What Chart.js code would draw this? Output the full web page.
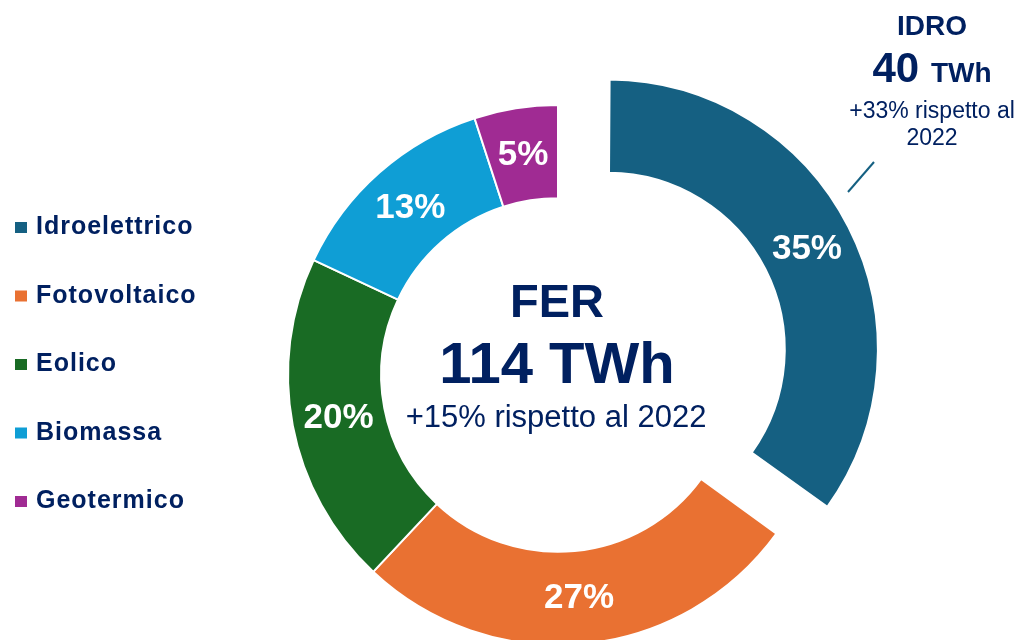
<!DOCTYPE html>
<html>
<head>
<meta charset="utf-8">
<script src="https://cdn.jsdelivr.net/npm/chart.js@4.4.1/dist/chart.umd.min.js"></script>
<style>
  html, body { margin: 0; padding: 0; background: #fff; }
  #wrap { position: relative; width: 1020px; height: 640px; }
</style>
</head>
<body>
<div id="wrap"><canvas id="ferChart"></canvas></div>
<script>
// dati
const fonti = ["Idroelettrico", "Fotovoltaico", "Eolico", "Biomassa", "Geotermico"];
const quote = [35, 27, 20, 13, 5];
const colori = ["#156082", "#E97132", "#196B24", "#0F9ED5", "#A02B93"];
const distacco = [224, 0, 0, 0, 0]; // solo l'idro e' staccato

const titoloCentro = "FER";
const totaleCentro = "114 TWh";
const notaCentro = "+15% rispetto al 2022";
const idroTitolo = "IDRO";
const idroValore = "40";
const idroNota = ["+33% rispetto al", "2022"];

const NAVY = "#002060";
const FONT = "'Liberation Sans', Arial, sans-serif";

// chart.js allarga anche il raggio dell'arco staccato: lo riporto uguale agli altri
function extraRaggio(arc, i) {
    const o = (distacco[i] || 0) / 4;
    return o * (1 - Math.sin(Math.min(Math.PI, arc.circumference)));
}

const fixOffset = {
    id: "fixOffset",
    afterDatasetUpdate(chart, args) {
        args.meta.data.forEach((arc, i) => {
            const g = extraRaggio(arc, i);
            arc.outerRadius -= g;
            arc.innerRadius -= g;
        });
    }
};

const etichette = {
    id: "etichette",
    afterDatasetsDraw(chart) {
        const ctx = chart.ctx;
        const meta = chart.getDatasetMeta(0);
        ctx.save();
        ctx.font = "bold 35px " + FONT;
        ctx.fillStyle = "#fff";
        ctx.textAlign = "center";
        ctx.textBaseline = "middle";
        meta.data.forEach((arc, i) => {
            const mid = (arc.startAngle + arc.endAngle) / 2;
            const r = (arc.innerRadius + arc.outerRadius) / 2 + extraRaggio(arc, i) + (distacco[i] || 0) / 4;
            ctx.fillText(quote[i] + "%", arc.x + Math.cos(mid) * r, arc.y + Math.sin(mid) * r + 1);
        });
        ctx.restore();
    }
};

const testi = {
    id: "testi",
    afterDraw(chart) {
        const ctx = chart.ctx;
        const meta = chart.getDatasetMeta(0);
        const cx = meta.data[0].x;
        ctx.save();
        ctx.fillStyle = NAVY;
        ctx.textAlign = "center";
        ctx.textBaseline = "alphabetic";

        // centro
        ctx.font = "bold 47px " + FONT;
        ctx.fillText(titoloCentro, cx - 1, 317);
        ctx.font = "bold 58px " + FONT;
        ctx.fillText(totaleCentro, cx - 1, 383);
        ctx.font = "31px " + FONT;
        ctx.fillText(notaCentro, cx - 2, 427);

        // nota idro in alto a destra
        ctx.font = "bold 28px " + FONT;
        ctx.fillText(idroTitolo, 932, 35);
        ctx.font = "bold 42px " + FONT;
        const w40 = ctx.measureText(idroValore + " ").width;
        ctx.font = "bold 28px " + FONT;
        const wTwh = ctx.measureText("TWh").width;
        const x0 = 932 - (w40 + wTwh) / 2;
        ctx.textAlign = "left";
        ctx.font = "bold 42px " + FONT;
        ctx.fillText(idroValore, x0, 82);
        ctx.font = "bold 28px " + FONT;
        ctx.fillText("TWh", x0 + w40, 82);
        ctx.textAlign = "center";
        ctx.font = "23px " + FONT;
        ctx.fillText(idroNota[0], 932, 118);
        ctx.fillText(idroNota[1], 932, 145);

        ctx.strokeStyle = colori[0];
        ctx.lineWidth = 2;
        ctx.beginPath();
        ctx.moveTo(848, 192);
        ctx.lineTo(874, 162);
        ctx.stroke();

        // legenda
        ctx.textAlign = "left";
        ctx.textBaseline = "middle";
        ctx.font = "bold 25px " + FONT;
        ctx.letterSpacing = "1px";
        fonti.forEach((f, i) => {
            const y = 227.5 + i * 68.5;
            ctx.fillStyle = colori[i];
            ctx.fillRect(15, y - 5.5, 12, 11);
            ctx.fillStyle = NAVY;
            ctx.fillText(f, 36, y);
        });
        ctx.restore();
    }
};

new Chart(document.getElementById("ferChart"), {
    type: "doughnut",
    data: {
        labels: fonti,
        datasets: [{
            data: quote,
            backgroundColor: colori,
            borderColor: "#fff",
            borderWidth: 2,
            offset: distacco
        }]
    },
    options: {
        responsive: true,
        maintainAspectRatio: false,
        animation: false,
        radius: 270,
        cutout: "65.5%",
        layout: { padding: { left: 96, top: 110, right: 0, bottom: 0 } },
        plugins: {
            legend: { display: false },
            tooltip: { enabled: false }
        }
    },
    plugins: [fixOffset, etichette, testi]
});
</script>
</body>
</html>
